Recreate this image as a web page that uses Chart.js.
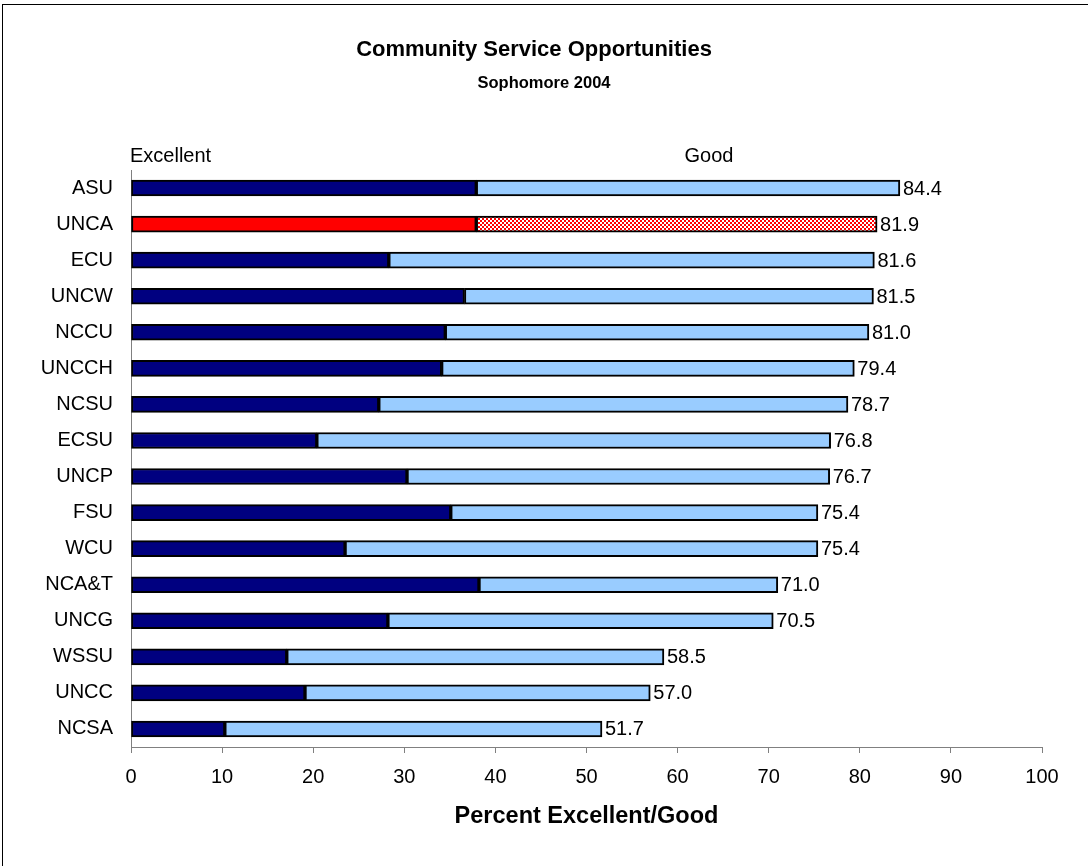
<!DOCTYPE html>
<html>
<head>
<meta charset="utf-8">
<title>Community Service Opportunities</title>
<script src="https://cdn.jsdelivr.net/npm/chart.js@4/dist/chart.umd.min.js"></script>
<style>
  html, body { margin: 0; padding: 0; background: #fff; }
  #wrap { position: relative; width: 1088px; height: 866px; overflow: hidden; }
  #frame { position: absolute; left: 2px; top: 4px; width: 1100px; height: 880px; border: 1px solid #000; box-sizing: border-box; }
  canvas { position: absolute; left: 0; top: 0; }
</style>
</head>
<body>
<div id="wrap">
  <div id="frame"></div>
  <canvas id="chart" width="1088" height="866"></canvas>
</div>
<script>
// Datos del grafico
const schools = ["ASU", "UNCA", "ECU", "UNCW", "NCCU", "UNCCH", "NCSU", "ECSU",
                 "UNCP", "FSU", "WCU", "NCA&T", "UNCG", "WSSU", "UNCC", "NCSA"];
const excellent = [37.9, 37.9, 28.3, 36.6, 34.5, 34.1, 27.2, 20.4,
                   30.3, 35.1, 23.5, 38.2, 28.2, 17.1, 19.1, 10.3];
const good = [46.5, 44.0, 53.3, 44.9, 46.5, 45.3, 51.5, 56.4,
              46.4, 40.3, 51.9, 32.8, 42.3, 41.4, 37.9, 41.4];
const totals = ["84.4", "81.9", "81.6", "81.5", "81.0", "79.4", "78.7", "76.8",
                "76.7", "75.4", "75.4", "71.0", "70.5", "58.5", "57.0", "51.7"];
const xTicks = [0, 10, 20, 30, 40, 50, 60, 70, 80, 90, 100];
const highlight = "UNCA";

const FONT = "'Liberation Sans', Arial, sans-serif";

// Patron cuadriculado rojo para UNCA
function checkerPattern() {
  const c = document.createElement("canvas");
  c.width = 4; c.height = 4;
  const g = c.getContext("2d");
  g.fillStyle = "#fff";
  g.fillRect(0, 0, 4, 4);
  g.fillStyle = "#ff0000";
  g.fillRect(0, 0, 2, 2);
  g.fillRect(2, 2, 2, 2);
  return g.createPattern(c, "repeat");
}

const ctxChart = document.getElementById("chart").getContext("2d");
const checker = checkerPattern();

const excColors = schools.map(s => s === highlight ? "#ff0000" : "#000080");
const goodColors = schools.map(s => s === highlight ? checker : "#99ccff");

// Textos: titulo, subtitulos de columnas, etiquetas de totales
const textPlugin = {
  id: "texts",
  afterDatasetsDraw(chart) {
    const c = chart.ctx;
    const xs = chart.scales.x;
    c.save();
    c.fillStyle = "#000";
    c.textBaseline = "middle";

    c.textAlign = "center";
    c.font = "bold 22px " + FONT;
    c.fillText("Community Service Opportunities", 534, 50);
    c.font = "bold 16.5px " + FONT;
    c.fillText("Sophomore 2004", 544, 83);

    c.font = "20px " + FONT;
    c.textAlign = "left";
    c.fillText("Excellent", xs.left - 1, 156);
    c.textAlign = "center";
    c.fillText("Good", 709, 156);

    c.font = "bold 23.5px " + FONT;
    c.fillText("Percent Excellent/Good", xs.getPixelForValue(50), 817);

    // Totales al final de cada barra
    const meta = chart.getDatasetMeta(1);
    c.font = "20px " + FONT;
    c.textAlign = "left";
    meta.data.forEach((bar, i) => {
      c.fillText(totals[i], bar.x + 3, bar.y + 1);
    });
    c.restore();
  }
};

new Chart(ctxChart, {
  type: "bar",
  data: {
    labels: schools,
    datasets: [
      {
        label: "Excellent",
        data: excellent,
        backgroundColor: excColors,
        borderColor: "#000",
        borderWidth: 2,
        borderSkipped: false,
        barThickness: 16,
      },
      {
        label: "Good",
        data: good,
        backgroundColor: goodColors,
        borderColor: "#000",
        borderWidth: 2,
        borderSkipped: false,
        barThickness: 16,
      },
    ],
  },
  options: {
    indexAxis: "y",
    responsive: false,
    animation: false,
    layout: { padding: { top: 170, right: 46, bottom: 0, left: 0 } },
    plugins: {
      legend: { display: false },
      tooltip: { enabled: false },
      title: { display: false },
    },
    scales: {
      x: {
        stacked: true,
        min: 0,
        max: 100,
        afterBuildTicks(scale) {
          scale.ticks = xTicks.map(v => ({ value: v }));
        },
        afterFit(scale) { scale.height = 119; },
        grid: { drawOnChartArea: false, drawTicks: true, tickLength: 6, color: "#808080", lineWidth: 1 },
        border: { display: true, color: "#808080", width: 1 },
        ticks: { color: "#000", font: { family: FONT, size: 20 }, padding: 12, maxRotation: 0 },
      },
      y: {
        stacked: true,
        afterFit(scale) { scale.width = 131; },
        grid: { display: false, drawTicks: false },
        border: { display: true, color: "#808080", width: 1 },
        ticks: { color: "#000", font: { family: FONT, size: 20 }, padding: 18 },
      },
    },
  },
  plugins: [textPlugin],
});
</script>
</body>
</html>
